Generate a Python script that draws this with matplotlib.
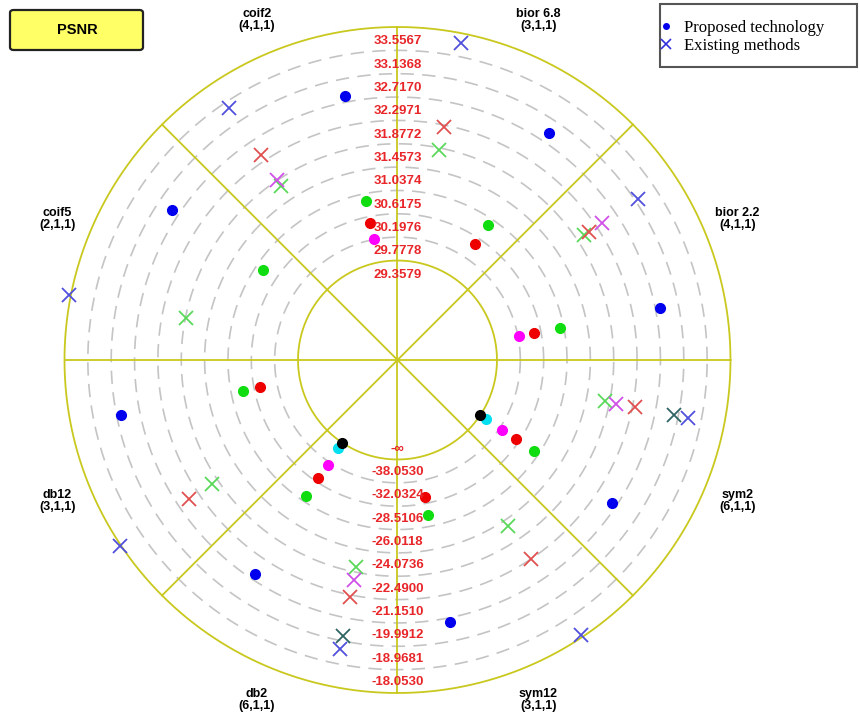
import matplotlib
matplotlib.use("Agg")
import matplotlib.pyplot as plt
import numpy as np
from matplotlib.lines import Line2D
from matplotlib.patches import FancyBboxPatch, Rectangle

nan = np.nan

# wavelet sectors, counter-clockwise starting at 0 deg
sectors = ["bior 2.2\n(4,1,1)", "bior 6.8\n(3,1,1)", "coif2\n(4,1,1)", "coif5\n(2,1,1)",
           "db12\n(3,1,1)", "db2\n(6,1,1)", "sym12\n(3,1,1)", "sym2\n(6,1,1)"]

# ring labels, inner circle -> outer circle
top_labels = ["29.3579", "29.7778", "30.1976", "30.6175", "31.0374", "31.4573",
              "31.8772", "32.2971", "32.7170", "33.1368", "33.5567"]
bottom_labels = ["-\u221e", "-38.0530", "-32.0324", "-28.5106", "-26.0118", "-24.0736",
                 "-22.4900", "-21.1510", "-19.9912", "-18.9681", "-18.0530"]

# proposed technology (dots), one value per sector
dot_blue = [32.38, 32.47, 32.41, 32.44, 32.63, 32.19, 32.38, 32.21]
dot_green = [30.55, 30.49, 30.48, 30.47, 30.41, 30.52, 30.42, 30.52]
dot_red = [30.07, 30.07, 30.08, nan, 30.09, 30.13, 30.09, 30.13]
dot_magenta = [29.79, nan, 29.78, nan, nan, 29.83, nan, 29.84]
dot_cyan = [nan, nan, nan, nan, nan, 29.48, nan, 29.48]
dot_black = [nan, nan, nan, nan, nan, 29.37, nan, 29.36]

# existing methods (crosses)
x_blue = [32.78, 33.38, 33.01, 33.60, 33.58, 32.86, 33.52, 32.89]
x_red = [31.71, 31.85, 32.00, nan, 32.07, 31.92, 31.88, 31.92]
x_green = [31.60, 31.42, 31.33, 31.44, 31.58, 31.36, 31.16, 31.37]
x_magenta = [32.00, nan, 31.46, nan, nan, 31.61, nan, 31.58]
x_teal = [nan, nan, nan, nan, nan, 32.63, nan, 32.63]

ring_vals = [float(v) for v in top_labels]
r_in, r_out = ring_vals[0], ring_vals[-1]
r_center = r_in - 4.26 * (r_out - r_in) / 10

fig = plt.figure(figsize=(8.6, 7.2), dpi=100)
ax = fig.add_axes([0.075, 0.0375, 0.7744, 0.925], projection="polar")
ax.set_ylim(r_center, r_out)
ax.set_axis_off()

yel = "#c9c81e"
full = np.linspace(0, 2 * np.pi, 500)
for i, rv in enumerate(ring_vals):
    if i == 0 or i == len(ring_vals) - 1:
        ax.plot(full, np.full_like(full, rv), color=yel, lw=1.3, clip_on=False)
    else:
        ax.plot(full, np.full_like(full, rv), color="#c4c4c4", lw=1.2,
                ls=(0, (8, 5)), clip_on=False)

# spokes through the centre
for a in np.arange(0, 360, 45):
    t = np.deg2rad(a)
    ax.plot([t, t], [r_center, r_out], color=yel, lw=1.3, clip_on=False)

n = len(sectors)
base = np.deg2rad(45 * np.arange(n))
th_dot = base + np.deg2rad(11.25)
th_x = base + np.deg2rad(33.75)

for vals, col in [(x_green, "#5ad85a"), (x_red, "#e05050"), (x_magenta, "#d050e8"),
                  (x_teal, "#2e6464"), (x_blue, "#5050dc")]:
    ax.plot(th_x, vals, "x", color=col, ms=10, mew=1.3, ls="none", clip_on=False)

for vals, col in [(dot_blue, "#0000ee"), (dot_green, "#10dd10"), (dot_red, "#ee0000"),
                  (dot_magenta, "#ff00ff"), (dot_cyan, "#00e0f0"), (dot_black, "#000000")]:
    ax.plot(th_dot, vals, "o", color=col, ms=7, ls="none", clip_on=False)

lab_font = ["Liberation Sans", "DejaVu Sans"]
for rv, txt in zip(ring_vals, top_labels):
    ax.annotate(txt, xy=(np.pi / 2, rv), xytext=(0, -10.2), textcoords="offset points",
                ha="center", va="center", color="#e8262a", fontsize=9.5,
                fontweight="bold", family=lab_font)
for rv, txt in zip(ring_vals, bottom_labels):
    ax.annotate(txt, xy=(3 * np.pi / 2, rv), xytext=(0, 7.8), textcoords="offset points",
                ha="center", va="center", color="#e8262a", fontsize=9.5,
                fontweight="bold", family=lab_font)

r_lab = r_in + 11.5 * (r_out - r_in) / 10
for k, name in enumerate(sectors):
    ax.text(base[k] + np.deg2rad(22.5), r_lab, name, ha="center", va="center",
            fontsize=9, fontweight="bold", family=lab_font, linespacing=1.05)

# title box
fig.patches.append(FancyBboxPatch((10 / 860, 1 - 50 / 720), 133 / 860, 40 / 720,
                                  boxstyle="round,pad=0,rounding_size=0.004",
                                  transform=fig.transFigure, fc="#ffff66", ec="#222222", lw=1.6))
fig.text(77 / 860, 1 - 30 / 720, "PSNR", ha="center", va="center",
         fontsize=10.5, fontweight="bold", family=lab_font)

# legend box
fig.patches.append(Rectangle((660 / 860, 1 - 67 / 720), 197 / 860, 63 / 720,
                             transform=fig.transFigure, fc="white", ec="#555555", lw=1.5))
handles = [Line2D([], [], marker="o", color="#0000ee", ls="none", ms=4),
           Line2D([], [], marker="x", color="#3030dd", ls="none", ms=7, mew=1.2)]
fig.legend(handles, ["Proposed technology", "Existing methods"],
           loc="upper left", bbox_to_anchor=(661 / 860, 1 - 20 / 720), frameon=False,
           prop={"family": "Liberation Serif", "size": 12}, handlelength=0.6,
           handletextpad=0.75, labelspacing=0.1, borderpad=0, borderaxespad=0)

fig.savefig("out.png", dpi=100)
